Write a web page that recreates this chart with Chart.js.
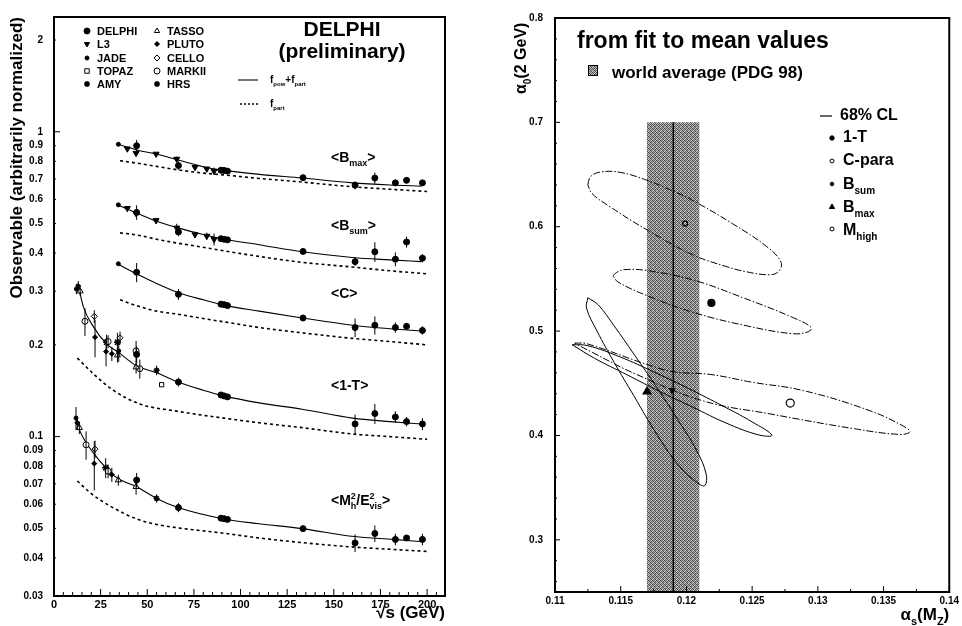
<!DOCTYPE html>
<html><head><meta charset="utf-8">
<script src="https://cdn.jsdelivr.net/npm/chart.js@4.4.1/dist/chart.umd.min.js"></script>
<style>
html,body{margin:0;padding:0;background:#fff;width:962px;height:626px;overflow:hidden}
canvas{position:absolute;top:0}
#cl{left:0}#cr{left:480px}
</style></head><body>
<canvas id="cl" width="480" height="626"></canvas>
<canvas id="cr" width="482" height="626"></canvas>
<script>
// ================= LEFT PANEL DATA =================
const xTickValues = [0,25,50,75,100,125,150,175,200];
const xTickLabels = ['0','25','50','75','100','125','150','175','200'];
const xMinorTicks = [5,10,15,20,30,35,40,45,55,60,65,70,80,85,90,95,105,110,115,120,130,135,140,145,155,160,165,170,180,185,190,195,205];
const yTickValues = [0.03,0.04,0.05,0.06,0.07,0.08,0.09,0.1,0.2,0.3,0.4,0.5,0.6,0.7,0.8,0.9,1,2];
const yTickLabels = ['0.03','0.04','0.05','0.06','0.07','0.08','0.09','0.1','0.2','0.3','0.4','0.5','0.6','0.7','0.8','0.9','1','2'];

// fit curves f_pow+f_part (solid) and f_part (dashed)
const fitE_B = [34,45,55,66.5,80,91,110,133,160,180,197];
const bmaxFit = [0.91,0.87,0.845,0.808,0.768,0.747,0.725,0.705,0.68,0.669,0.663];
const bsumFit = [0.576,0.539,0.509,0.484,0.46,0.444,0.426,0.404,0.387,0.38,0.375];
const cFit    = [0.369,0.34,0.318,0.297,0.281,0.27,0.258,0.245,0.232,0.226,0.222];
const partE_B = [35.4,45,55,66.5,80,91,110,133,160,180,200];
const bmaxPart = [0.804,0.788,0.77,0.75,0.732,0.722,0.703,0.684,0.66,0.648,0.637];
const bsumPart = [0.466,0.458,0.444,0.431,0.418,0.407,0.39,0.373,0.36,0.35,0.342];
const cPart    = [0.281,0.268,0.258,0.252,0.244,0.238,0.228,0.219,0.21,0.205,0.2];
const tFitE = [13,15.7,21,28,35,44,55,66.5,80,91,110,133,160,180,197];
const tFit  = [0.314,0.267,0.23,0.202,0.188,0.171,0.162,0.151,0.142,0.136,0.129,0.123,0.115,0.112,0.11];
const tPartE = [12.5,21,31.7,46,66.5,91,110,133,160,180,200];
const tPart  = [0.181,0.161,0.142,0.128,0.121,0.115,0.111,0.107,0.102,0.1,0.098];
const mFitE = [11.5,14,17,22,27,31,35,44.3,55,66.5,91,110,133,161,182,198];
const mFit  = [0.117,0.104,0.096,0.087,0.08,0.0755,0.0725,0.0685,0.0627,0.0585,0.0537,0.0518,0.0499,0.047,0.046,0.0452];
const mPartE = [12.5,20,30,44.3,55,66.5,91,110,133,161,180,200];
const mPart  = [0.0715,0.065,0.0592,0.0537,0.0515,0.0502,0.0482,0.0465,0.0449,0.0434,0.0427,0.042];

// DELPHI measurements
const delphiE = [44.3,66.7,89.5,91.2,93,133.5,161.4,172,183,189,197.5];
const delphiBmax    = [0.90,0.775,0.748,0.747,0.743,0.707,0.668,0.705,0.68,0.693,0.68];
const delphiBmaxErr = [0.04,0.025,0.006,0.004,0.006,0.01,0.02,0.03,0.012,0.006,0.01];
const delphiBsum    = [0.544,0.469,0.446,0.444,0.442,0.405,0.375,0.404,0.382,0.435,0.385];
const delphiBsumErr = [0.03,0.015,0.004,0.003,0.004,0.006,0.012,0.03,0.02,0.018,0.012];
const delphiC       = [0.346,0.293,0.272,0.271,0.269,0.245,0.228,0.232,0.228,0.23,0.223];
const delphiCErr    = [0.025,0.012,0.003,0.002,0.003,0.004,0.016,0.016,0.009,0.006,0.007];
const delphiT       = [0.186,0.151,0.137,0.136,0.135,null,0.11,0.119,0.116,0.112,0.11];
const delphiTErr    = [0.012,0.005,0.002,0.001,0.002,null,0.008,0.009,0.005,0.004,0.005];
const delphiM       = [0.072,0.0585,0.054,0.0538,0.0535,0.0499,0.0448,0.0481,0.046,0.0465,0.046];
const delphiMErr    = [0.004,0.002,0.0005,0.0004,0.0005,0.001,0.003,0.003,0.002,0.001,0.002];

// L3 measurements
const l3E    = [39.3,44,54.7,65.8,75.6,81.9,85.8];
const l3Bmax = [0.88,0.851,0.846,0.814,0.765,0.756,0.743];
const l3Bsum = [0.561,0.54,0.512,0.484,0.46,0.455,0.444];
const l3Err  = [0.008,0.01,0.01,0.015,0.01,0.012,0.02];

// JADE points on the broadening / C curves
const jadeBE = [34.5];
const jadeBmax = [0.91];
const jadeBsum = [0.576];
const jadeC = [0.369];

// low-energy <1-T>
const lowTExp = ['JADE','PLUTO','TASSO','MARKII','CELLO','PLUTO','HRS','MARKII','PLUTO','PLUTO','HRS','CELLO','JADE','TASSO','MARKII','TASSO','MARKII','AMY','TOPAZ'];
const lowTE   = [12,13,14,16.6,21.6,22,28.2,29,27.9,31,34,35.4,34.7,34,44,44,46,55,57.7];
const lowTV   = [0.305,0.312,0.3,0.239,0.248,0.212,0.204,0.205,0.19,0.187,0.204,0.211,0.191,0.185,0.191,0.169,0.167,0.165,0.148];
const lowTErr = [0.012,0.012,0.01,0.025,0.012,0.03,0.012,0.01,0.02,0.01,0.015,0.01,0.015,0.01,0.015,0.008,0.012,0.006,0];
// low-energy <Mh2/Evis2>
const lowMExp = ['JADE','PLUTO','TASSO','MARKII','CELLO','PLUTO','HRS','MARKII','PLUTO','TASSO','TASSO','AMY'];
const lowME   = [11.8,12.5,13.6,17.2,22,21.6,27.7,29,31,34.5,44,55];
const lowMV   = [0.115,0.111,0.107,0.094,0.091,0.0816,0.079,0.077,0.075,0.072,0.0685,0.0627];
const lowMErr = [0.01,0.006,0.005,0.01,0.006,0.015,0.006,0.004,0.004,0.003,0.004,0.002];

const expNames = ['DELPHI','L3','JADE','TOPAZ','AMY','TASSO','PLUTO','CELLO','MARKII','HRS'];

// ================= RIGHT PANEL DATA =================
const rxTickValues = [0.11,0.115,0.12,0.125,0.13,0.135,0.14];
const rxTickLabels = ['0.11','0.115','0.12','0.125','0.13','0.135','0.14'];
const rxMinorTicks = [0.1125,0.1175,0.1225,0.1275,0.1325,0.1375];
const ryTickValues = [0.3,0.4,0.5,0.6,0.7,0.8];
const ryTickLabels = ['0.3','0.4','0.5','0.6','0.7','0.8'];
const ryMinorTicks = [0.26,0.28,0.32,0.34,0.36,0.38,0.42,0.44,0.46,0.48,0.52,0.54,0.56,0.58,0.62,0.64,0.66,0.68,0.72,0.74,0.76,0.78];

// PDG 98 world average band and central value
const bandAs = [0.117,0.121];
const bandTop = [0.7,0.7];
const bandBottom = 0.25;
const pdgAs = [0.119,0.119];
const pdgA0 = [0.7,0.25];

// 68% CL contours (alpha_s, alpha_0)
const mhighAs = [0.1125,0.1127,0.1135,0.115,0.117,0.119,0.1205,0.1235,0.1261,0.1272,0.127,0.1263,0.1245,0.123,0.1205,0.117,0.1142,0.1128,0.1125];
const mhighA0 = [0.64,0.648,0.6525,0.652,0.6445,0.634,0.625,0.603,0.581,0.566,0.557,0.554,0.557,0.562,0.573,0.597,0.619,0.632,0.64];
const thrAs = [0.1144,0.1148,0.1154,0.117,0.1205,0.1243,0.1281,0.1295,0.1293,0.1281,0.1246,0.1205,0.117,0.1148,0.1144];
const thrA0 = [0.553,0.557,0.559,0.558,0.549,0.532,0.513,0.5035,0.4995,0.4975,0.505,0.518,0.534,0.547,0.553];
const cparAs = [0.1115,0.1124,0.117,0.119,0.1218,0.125,0.1289,0.1339,0.1365,0.137,0.1362,0.1327,0.1263,0.1213,0.1162,0.1127,0.1115];
const cparA0 = [0.4884,0.488,0.468,0.461,0.4585,0.451,0.443,0.424,0.409,0.4035,0.401,0.4066,0.4208,0.433,0.4585,0.4805,0.4884];
const bmaxAs = [0.1125,0.1133,0.1145,0.116,0.1178,0.1195,0.1208,0.1215,0.1214,0.1208,0.1195,0.1178,0.116,0.1145,0.1132,0.1124,0.1125];
const bmaxA0 = [0.532,0.525,0.505,0.478,0.445,0.412,0.385,0.363,0.352,0.355,0.37,0.4,0.438,0.47,0.5,0.522,0.532];
const bsumAs = [0.1113,0.1125,0.115,0.1175,0.12,0.1225,0.125,0.1265,0.1255,0.123,0.1205,0.118,0.1155,0.113,0.1113];
const bsumA0 = [0.487,0.486,0.475,0.461,0.446,0.43,0.413,0.4003,0.4005,0.412,0.427,0.442,0.458,0.474,0.487];
// best-fit points
const centreNames = ['1-T','C-para','B_sum','B_max','M_high'];
const centreAs = [0.1219,0.1279,0.1189,0.117,0.1199];
const centreA0 = [0.527,0.431,0.4434,0.442,0.603];

// ================= HELPERS =================
const FONT = "'Liberation Sans', Arial, Helvetica, sans-serif";
function pts(xs, ys, errs) {
  const out = [];
  xs.forEach((x, i) => { if (ys[i] != null) out.push({ x: x, y: ys[i], err: errs ? errs[i] : 0 }); });
  return out;
}
function drawRich(ctx, parts, x, y, size) {
  let cx = x;
  for (const p of parts) {
    if (typeof p === 'string') {
      ctx.font = 'bold ' + size + 'px ' + FONT;
      ctx.fillText(p, cx, y); cx += ctx.measureText(p).width;
    } else {
      const s = Math.round(size * 0.62);
      ctx.font = 'bold ' + s + 'px ' + FONT;
      let w = 0;
      if (p.sub) { ctx.fillText(p.sub, cx, y + size * 0.3); w = Math.max(w, ctx.measureText(p.sub).width); }
      if (p.sup) { ctx.fillText(p.sup, cx, y - size * 0.45); w = Math.max(w, ctx.measureText(p.sup).width); }
      cx += w;
    }
  }
  return cx - x;
}
function richWidth(ctx, parts, size) {
  let w = 0;
  for (const p of parts) {
    if (typeof p === 'string') { ctx.font = 'bold ' + size + 'px ' + FONT; w += ctx.measureText(p).width; }
    else { ctx.font = 'bold ' + Math.round(size * 0.62) + 'px ' + FONT;
      w += Math.max(p.sub ? ctx.measureText(p.sub).width : 0, p.sup ? ctx.measureText(p.sup).width : 0); }
  }
  return w;
}
function marker(ctx, style, x, y, r, filled, rot) {
  ctx.save();
  ctx.beginPath(); ctx.lineWidth = 1; ctx.strokeStyle = '#000'; ctx.fillStyle = '#000';
  if (style === 'circle') ctx.arc(x, y, r, 0, Math.PI * 2);
  else if (style === 'triangle') {
    const d = rot ? -1 : 1;
    ctx.moveTo(x, y - d * r); ctx.lineTo(x + r * 0.87, y + d * r * 0.5); ctx.lineTo(x - r * 0.87, y + d * r * 0.5); ctx.closePath();
  } else if (style === 'rect') ctx.rect(x - r * 0.75, y - r * 0.75, r * 1.5, r * 1.5);
  else if (style === 'rectRot') { ctx.moveTo(x, y - r); ctx.lineTo(x + r, y); ctx.lineTo(x, y + r); ctx.lineTo(x - r, y); ctx.closePath(); }
  else if (style === 'star') {
    for (let k = 0; k < 4; k++) { const a = k * Math.PI / 4; ctx.moveTo(x - r * Math.cos(a), y - r * Math.sin(a)); ctx.lineTo(x + r * Math.cos(a), y + r * Math.sin(a)); }
    ctx.lineWidth = 1.5; ctx.stroke(); ctx.restore(); return;
  }
  if (filled) ctx.fill(); ctx.stroke();
  ctx.restore();
}
const expStyle = {
  DELPHI: { s: 'circle', r: 3, f: true },
  L3:     { s: 'triangle', r: 3.5, f: true, rot: true },
  JADE:   { s: 'circle', r: 2, f: true },
  TOPAZ:  { s: 'rect', r: 3, f: false },
  AMY:    { s: 'star', r: 3, f: true },
  TASSO:  { s: 'triangle', r: 3.5, f: false },
  PLUTO:  { s: 'rectRot', r: 2.5, f: true },
  CELLO:  { s: 'rectRot', r: 3, f: false },
  MARKII: { s: 'circle', r: 3, f: false },
  HRS:    { s: 'star', r: 3.5, f: true }
};

// ================= LEFT DATASETS =================
const leftDatasets = [];
function curve(xs, ys, dashed) {
  leftDatasets.push({ data: pts(xs, ys), showLine: true, pointRadius: 0, borderColor: '#000',
    borderWidth: dashed ? 1.6 : 1.1, borderDash: dashed ? [3, 3] : [], cubicInterpolationMode: 'monotone', order: 5 });
}
curve(fitE_B, bmaxFit); curve(partE_B, bmaxPart, true);
curve(fitE_B, bsumFit); curve(partE_B, bsumPart, true);
curve(fitE_B, cFit); curve(partE_B, cPart, true);
curve(tFitE, tFit); curve(tPartE, tPart, true);
curve(mFitE, mFit); curve(mPartE, mPart, true);

function expDataset(name, data) {
  const st = expStyle[name];
  leftDatasets.push({ label: name, data: data, withErr: true, showLine: false,
    pointStyle: st.s, rotation: st.rot ? 180 : 0, pointRadius: st.r,
    borderColor: '#000', backgroundColor: st.f ? '#000' : '#fff', borderWidth: st.s === 'star' ? 1.5 : 1, order: 0 });
}
expDataset('DELPHI', [].concat(pts(delphiE, delphiBmax, delphiBmaxErr), pts(delphiE, delphiBsum, delphiBsumErr),
  pts(delphiE, delphiC, delphiCErr), pts(delphiE, delphiT, delphiTErr), pts(delphiE, delphiM, delphiMErr)));
expDataset('L3', [].concat(pts(l3E, l3Bmax, l3Err), pts(l3E, l3Bsum, l3Err)));
expNames.slice(2).forEach(n => {
  let d = [];
  if (n === 'JADE') d = d.concat(pts(jadeBE, jadeBmax), pts(jadeBE, jadeBsum), pts(jadeBE, jadeC));
  lowTExp.forEach((e, i) => { if (e === n) d.push({ x: lowTE[i], y: lowTV[i], err: lowTErr[i] }); });
  lowMExp.forEach((e, i) => { if (e === n) d.push({ x: lowME[i], y: lowMV[i], err: lowMErr[i] }); });
  expDataset(n, d);
});

const errorBars = {
  id: 'errorBars',
  afterDatasetsDraw(chart) {
    const { ctx, scales: { x, y } } = chart;
    ctx.save(); ctx.strokeStyle = '#000'; ctx.lineWidth = 1;
    chart.data.datasets.forEach(ds => {
      if (!ds.withErr) return;
      ds.data.forEach(p => {
        if (!p.err) return;
        const px = x.getPixelForValue(p.x);
        ctx.beginPath(); ctx.moveTo(px, y.getPixelForValue(p.y - p.err)); ctx.lineTo(px, y.getPixelForValue(p.y + p.err)); ctx.stroke();
      });
    });
    ctx.restore();
  }
};

const leftDecor = {
  id: 'leftDecor',
  afterDraw(chart) {
    const { ctx, chartArea: a, scales: { x, y } } = chart;
    ctx.save();
    ctx.strokeStyle = '#000'; ctx.fillStyle = '#000';
    ctx.lineWidth = 2; ctx.strokeRect(a.left, a.top, a.right - a.left, a.bottom - a.top);
    ctx.lineWidth = 1;
    const seg = (x1, y1, x2, y2) => { ctx.beginPath(); ctx.moveTo(x1, y1); ctx.lineTo(x2, y2); ctx.stroke(); };
    xTickValues.forEach(v => { const px = x.getPixelForValue(v); seg(px, a.bottom, px, a.bottom - 7); });
    xMinorTicks.forEach(v => { const px = x.getPixelForValue(v); seg(px, a.bottom, px, a.bottom - 4); });
    yTickValues.forEach(v => { const py = y.getPixelForValue(v); seg(a.left, py, a.left + ((v === 1 || v === 0.1) ? 6 : 2), py); });
    // titles
    ctx.textAlign = 'center'; ctx.textBaseline = 'middle';
    ctx.font = 'bold 21px ' + FONT;
    ctx.fillText('DELPHI', 342, 30);
    ctx.fillText('(preliminary)', 342, 52);
    // legend of experiments
    ctx.textAlign = 'left'; ctx.font = 'bold 11px ' + FONT;
    const rows = [31, 44, 58, 71, 84];
    expNames.forEach((n, i) => {
      const col = i < 5 ? 0 : 1, row = i % 5;
      const mx = col ? 157 : 87, tx = col ? 167 : 97;
      const st = expStyle[n];
      marker(ctx, st.s, mx, rows[row], Math.min(st.r, 3), st.f, st.rot);
      ctx.font = 'bold 11px ' + FONT; ctx.textBaseline = 'middle'; ctx.fillStyle = '#000';
      ctx.fillText(n, tx, rows[row] + 0.5);
    });
    // line legend
    ctx.lineWidth = 1.1; seg(238, 80, 258, 80);
    ctx.setLineDash([2, 2]); ctx.lineWidth = 1.3; seg(240, 104, 258, 104); ctx.setLineDash([]);
    ctx.textBaseline = 'alphabetic';
    drawRich(ctx, ['f', { sub: 'pow' }, '+f', { sub: 'part' }], 270, 83, 10);
    drawRich(ctx, ['f', { sub: 'part' }], 270, 107, 10);
    // observable labels
    drawRich(ctx, ['<B', { sub: 'max' }, '>'], 331, 162, 14);
    drawRich(ctx, ['<B', { sub: 'sum' }, '>'], 331, 230, 14);
    drawRich(ctx, ['<C>'], 331, 298, 14);
    drawRich(ctx, ['<1-T>'], 331, 390, 14);
    drawRich(ctx, ['<M', { sup: '2', sub: 'h' }, '/E', { sup: '2', sub: 'vis' }, '>'], 331, 505, 14);
    ctx.restore();
  }
};

new Chart(document.getElementById('cl'), {
  type: 'scatter',
  data: { datasets: leftDatasets },
  options: {
    responsive: false, animation: false, devicePixelRatio: 1,
    layout: { padding: { left: 0, right: 35, top: 7, bottom: 0 } },
    plugins: { legend: { display: false }, tooltip: { enabled: false } },
    scales: {
      x: {
        type: 'linear', min: 0, max: 209.6,
        grid: { display: false, drawTicks: false }, border: { display: false },
        ticks: { color: '#000', font: { family: FONT, size: 11, weight: 'bold' }, padding: 2, autoSkip: false, maxRotation: 0,
          callback: (v, i) => xTickLabels[i] },
        afterBuildTicks: s => { s.ticks = xTickValues.map(v => ({ value: v })); },
        afterFit: s => { s.height = 30; },
        title: { display: true, text: '√s (GeV)', align: 'end', color: '#000', font: { family: FONT, size: 17, weight: 'bold' }, padding: { top: 0, bottom: 2 } }
      },
      y: {
        type: 'logarithmic', min: 0.03, max: 2.38,
        grid: { display: false, drawTicks: false }, border: { display: false },
        ticks: { color: '#000', font: { family: FONT, size: 10, weight: 'bold' }, padding: 11, autoSkip: false,
          callback: (v, i) => yTickLabels[i] },
        afterBuildTicks: s => { s.ticks = yTickValues.map(v => ({ value: v })); },
        afterFit: s => { s.width = 54; },
        title: { display: true, text: 'Observable (arbitrarily normalized)', align: 'end', color: '#000',
          font: { family: FONT, size: 17, weight: 'bold' }, padding: { top: 7, bottom: 0 } }
      }
    }
  },
  plugins: [errorBars, leftDecor]
});

// ================= RIGHT CHART =================
const rctx = document.getElementById('cr').getContext('2d');
const tile = document.createElement('canvas'); tile.width = 4; tile.height = 4;
const tctx = tile.getContext('2d');
const stipple = [[70,160,100,195],[185,60,205,95],[120,215,65,150],[205,115,170,80]];
stipple.forEach((row, j) => row.forEach((g, i) => { tctx.fillStyle = 'rgb(' + g + ',' + g + ',' + g + ')'; tctx.fillRect(i, j, 1, 1); }));
const bandPattern = rctx.createPattern(tile, 'repeat');

const dashDot = [7, 2, 1.5, 2];
function contour(xs, ys, dashed) {
  return { data: pts(xs, ys), showLine: true, pointRadius: 0, borderColor: '#000', borderWidth: 1,
    borderDash: dashed ? dashDot : [], tension: 0.4, order: 1 };
}
const centreStyles = [
  { pointStyle: 'circle', pointRadius: 3.5, backgroundColor: '#000' },
  { pointStyle: 'circle', pointRadius: 4, backgroundColor: '#fff' },
  { pointStyle: 'triangle', rotation: 180, pointRadius: 3, backgroundColor: '#000' },
  { pointStyle: 'triangle', pointRadius: 4.5, backgroundColor: '#000' },
  { pointStyle: 'circle', pointRadius: 2.5, backgroundColor: 'rgba(0,0,0,0)' }
];
const rightDatasets = [
  { data: pts(bandAs, bandTop), showLine: true, borderWidth: 0, pointRadius: 0, fill: { value: bandBottom },
    backgroundColor: bandPattern, borderColor: 'rgba(0,0,0,0)', order: 10 },
  { data: pts(pdgAs, pdgA0), showLine: true, borderWidth: 1.5, pointRadius: 0, borderColor: '#000', order: 2 },
  contour(mhighAs, mhighA0, true),
  contour(thrAs, thrA0, true),
  contour(cparAs, cparA0, true),
  contour(bmaxAs, bmaxA0, false),
  contour(bsumAs, bsumA0, false)
];
centreNames.forEach((n, i) => {
  rightDatasets.push(Object.assign({ label: n, data: [{ x: centreAs[i], y: centreA0[i] }], showLine: false,
    borderColor: '#000', borderWidth: 1.2, order: 0 }, centreStyles[i]));
});

const rightDecor = {
  id: 'rightDecor',
  afterDraw(chart) {
    const { ctx, chartArea: a, scales: { x, y } } = chart;
    ctx.save();
    ctx.strokeStyle = '#000'; ctx.fillStyle = '#000';
    ctx.lineWidth = 2; ctx.strokeRect(a.left, a.top, a.right - a.left, a.bottom - a.top);
    ctx.lineWidth = 1;
    const seg = (x1, y1, x2, y2) => { ctx.beginPath(); ctx.moveTo(x1, y1); ctx.lineTo(x2, y2); ctx.stroke(); };
    rxTickValues.forEach(v => { const px = x.getPixelForValue(v); seg(px, a.bottom, px, a.bottom - 6); });
    rxMinorTicks.forEach(v => { const px = x.getPixelForValue(v); seg(px, a.bottom, px, a.bottom - 3); });
    ryTickValues.forEach(v => { const py = y.getPixelForValue(v); seg(a.left, py, a.left + 5, py); });
    ryMinorTicks.forEach(v => { const py = y.getPixelForValue(v); seg(a.left, py, a.left + 2, py); });
    // titles
    ctx.textBaseline = 'alphabetic'; ctx.textAlign = 'left';
    ctx.font = 'bold 23px ' + FONT;
    ctx.fillText('from fit to mean values', 97, 48);
    // world average icon + text
    ctx.fillStyle = bandPattern; ctx.fillRect(108, 65, 10, 11);
    ctx.strokeRect(108.5, 65.5, 9, 10);
    ctx.fillStyle = '#000';
    ctx.font = 'bold 17px ' + FONT;
    ctx.fillText('world average (PDG 98)', 132, 78);
    // legend
    ctx.lineWidth = 1.2; seg(340, 116, 352, 116);
    ctx.textBaseline = 'middle';
    ctx.font = 'bold 16px ' + FONT;
    ctx.fillText('68% CL', 360, 116);
    marker(ctx, 'circle', 352, 138, 2.2, true);
    marker(ctx, 'circle', 352, 161, 2, false);
    marker(ctx, 'circle', 352, 184, 1.8, true);
    marker(ctx, 'triangle', 352, 207, 3, true);
    marker(ctx, 'circle', 352, 229, 2, false);
    ctx.font = 'bold 16px ' + FONT;
    ctx.fillText('1-T', 363, 138);
    ctx.fillText('C-para', 363, 161);
    ctx.textBaseline = 'alphabetic';
    drawRich(ctx, ['B', { sub: 'sum' }], 363, 189, 16);
    drawRich(ctx, ['B', { sub: 'max' }], 363, 212, 16);
    drawRich(ctx, ['M', { sub: 'high' }], 363, 235, 16);
    // x axis title  alpha_s(M_Z)
    const xt = ['α', { sub: 's' }, '(M', { sub: 'Z' }, ')'];
    const wx = richWidth(ctx, xt, 17);
    drawRich(ctx, xt, a.right - wx, 620, 17);
    // y axis title  alpha_0(2 GeV)
    ctx.save();
    ctx.translate(46, a.top + 76);
    ctx.rotate(-Math.PI / 2);
    drawRich(ctx, ['α', { sub: '0' }, '(2 GeV)'], 0, 0, 16);
    ctx.restore();
    ctx.restore();
  }
};

new Chart(document.getElementById('cr'), {
  type: 'scatter',
  data: { datasets: rightDatasets },
  options: {
    responsive: false, animation: false, devicePixelRatio: 1,
    layout: { padding: { left: 0, right: 12, top: 8, bottom: 0 } },
    plugins: { legend: { display: false }, tooltip: { enabled: false } },
    scales: {
      x: {
        type: 'linear', min: 0.11, max: 0.14,
        grid: { display: false, drawTicks: false }, border: { display: false },
        ticks: { color: '#000', font: { family: FONT, size: 10, weight: 'bold' }, padding: 3, autoSkip: false, maxRotation: 0,
          callback: (v, i) => rxTickLabels[i] },
        afterBuildTicks: s => { s.ticks = rxTickValues.map(v => ({ value: v })); },
        afterFit: s => { s.height = 34; }
      },
      y: {
        type: 'linear', min: 0.25, max: 0.8,
        grid: { display: false, drawTicks: false }, border: { display: false },
        ticks: { color: '#000', font: { family: FONT, size: 10, weight: 'bold' }, padding: 12, autoSkip: false,
          callback: (v, i) => ryTickLabels[i] },
        afterBuildTicks: s => { s.ticks = ryTickValues.map(v => ({ value: v })); },
        afterFit: s => { s.width = 75; }
      }
    }
  },
  plugins: [rightDecor]
});
</script>
</body></html>
